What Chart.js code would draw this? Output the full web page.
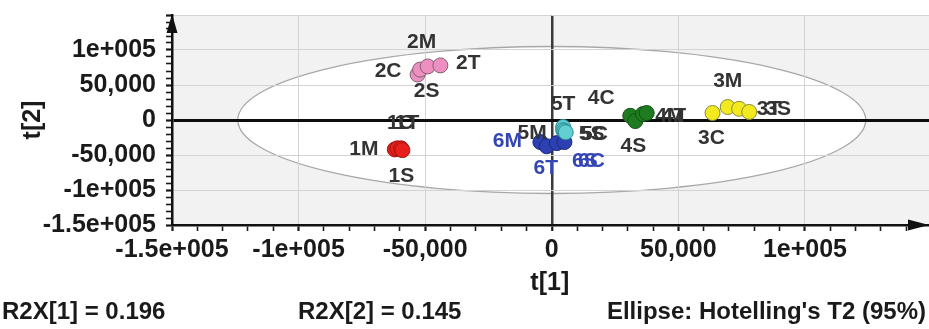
<!DOCTYPE html>
<html>
<head>
<meta charset="utf-8">
<title>PCA score plot t[1] / t[2]</title>
<script src="https://cdn.jsdelivr.net/npm/chart.js@4.4.1/dist/chart.umd.min.js"></script>
<style>
  html, body { margin: 0; padding: 0; background: #fff; }
  #chart { display: block; }
</style>
</head>
<body>
<canvas id="chart" width="929" height="329"></canvas>
<script>
// scores (t[1], t[2]) for each sample
const sampleNames = ['1M', '1C', '1T', '1S', '2S', '2C', '2M', '2T', '3C', '3M', '3T', '3S',
  '4C', '4S', '4M', '4T', '5T', '5M', '5C', '5S', '6M', '6T', '6S', '6C'];
const sampleGroup = [1, 1, 1, 1, 2, 2, 2, 2, 3, 3, 3, 3, 4, 4, 4, 4, 5, 5, 5, 5, 6, 6, 6, 6];
const t1Scores = [-62000, -61000, -59500, -59000, -53000, -52000, -49000, -44000, 63500, 69500, 74000, 78000,
  31000, 33000, 36000, 37500, 4500, 4500, 5000, 5500, -4500, -2000, 2000, 5000];
const t2Scores = [-42000, -40500, -40500, -43000, 65000, 72000, 76500, 78000, 10000, 18500, 16000, 11500,
  6000, -1500, 8500, 10000, -10000, -14500, -16000, -17500, -31500, -37500, -33000, -31500];

const groups = [1, 2, 3, 4, 5, 6];
const xTickValues = [-150000, -100000, -50000, 0, 50000, 100000];
const xTickLabels = ['-1.5e+005', '-1e+005', '-50,000', '0', '50,000', '1e+005'];
const yTickValues = [-150000, -100000, -50000, 0, 50000, 100000];
const yTickLabels = ['-1.5e+005', '-1e+005', '-50,000', '0', '50,000', '1e+005'];

const r2x1 = 0.196;
const r2x2 = 0.145;
// Hotelling's T2 (95%) ellipse half-axes, in score units
const ellipseT1 = 124000;
const ellipseT2 = 105000;

// styling
const FONT = '"Liberation Sans", Arial, Helvetica, sans-serif';
const groupFill = { 1: '#e8201c', 2: '#ee8fc1', 3: '#f2ea1f', 4: '#1f7b1f', 5: '#62cfd0', 6: '#2c40b2' };
const groupEdge = { 1: '#a3140f', 2: '#80606f', 3: '#8b8a3a', 4: '#15521a', 5: '#2a8c96', 6: '#1d2b80' };
const labelColor = { 6: '#3446b4' };
// where each sample name sits relative to its point (px)
const labelOffset = {
  '1M': [-31, 0], '1S': [-1, 26], '1C': [3, -25], '1T': [6, -25],
  '2M': [-6, -24], '2C': [-32, 2], '2T': [28, -2], '2S': [9, 17],
  '3M': [0, -26], '3C': [-1, 25], '3T': [30, 0], '3S': [29, -3],
  '4C': [-29, -18], '4S': [-2, 25], '4M': [27, 2], '4T': [27, 3],
  '5T': [0, -23], '5M': [-31, 3], '5S': [26, 2], '5C': [30, 3],
  '6M': [-33, -1], '6T': [-1, 22], '6S': [28, 18], '6C': [27, 19]
};

const datasets = groups.map((g) => {
  const idx = sampleGroup.map((v, i) => (v === g ? i : -1)).filter((i) => i >= 0);
  return {
    label: 'Group ' + g,
    names: idx.map((i) => sampleNames[i]),
    data: idx.map((i) => ({ x: t1Scores[i], y: t2Scores[i] })),
    backgroundColor: groupFill[g],
    borderColor: groupEdge[g],
    borderWidth: 1,
    pointRadius: 7.5,
    pointHoverRadius: 7.5,
    group: g
  };
});

function stepTicks(from, to) {
  const out = [];
  for (let v = from; v <= to; v += 10000) out.push({ value: v });
  return out;
}

function gridColor(c, zeroColor) {
  if (!c.tick) return 'rgba(0,0,0,0)';
  const v = c.tick.value;
  if (v === 0) return zeroColor;
  return v % 50000 === 0 ? '#d3d3d3' : 'rgba(0,0,0,0)';
}

const decorations = {
  id: 'decorations',
  beforeDraw(chart) {
    const { ctx, chartArea: a, scales: { x, y } } = chart;
    ctx.save();
    ctx.fillStyle = '#f2f2f2';
    ctx.fillRect(a.left, a.top, a.right - a.left, a.bottom - a.top);
    const cx = x.getPixelForValue(0);
    const cy = y.getPixelForValue(0);
    const rx = x.getPixelForValue(ellipseT1) - cx;
    const ry = cy - y.getPixelForValue(ellipseT2);
    ctx.beginPath();
    ctx.ellipse(cx, cy, rx, ry, 0, 0, Math.PI * 2);
    ctx.fillStyle = '#ffffff';
    ctx.fill();
    ctx.strokeStyle = '#a8a8a8';
    ctx.lineWidth = 1.3;
    ctx.stroke();
    ctx.restore();
  },
  afterDatasetsDraw(chart) {
    const { ctx } = chart;
    ctx.save();
    ctx.font = 'bold 21px ' + FONT;
    ctx.textAlign = 'center';
    ctx.textBaseline = 'middle';
    chart.data.datasets.forEach((ds, i) => {
      chart.getDatasetMeta(i).data.forEach((pt, j) => {
        const name = ds.names[j];
        const off = labelOffset[name] || [0, -22];
        ctx.fillStyle = labelColor[ds.group] || '#333333';
        ctx.fillText(name, pt.x + off[0], pt.y + off[1]);
      });
    });
    ctx.restore();
  },
  afterDraw(chart) {
    const { ctx, chartArea: a } = chart;
    ctx.save();
    ctx.fillStyle = '#111';
    // axis arrows
    ctx.beginPath();
    ctx.moveTo(a.left, a.top - 1);
    ctx.lineTo(a.left - 5.5, a.top + 18);
    ctx.lineTo(a.left + 5.5, a.top + 18);
    ctx.closePath();
    ctx.fill();
    ctx.beginPath();
    ctx.moveTo(a.right, a.bottom);
    ctx.lineTo(a.right - 21, a.bottom - 5.5);
    ctx.lineTo(a.right - 21, a.bottom + 5.5);
    ctx.closePath();
    ctx.fill();

    // axis titles
    ctx.fillStyle = '#1a1a1a';
    ctx.font = 'bold 25px ' + FONT;
    ctx.textAlign = 'center';
    ctx.textBaseline = 'middle';
    ctx.fillText('t[1]', x0(chart) - 2, 283);
    ctx.save();
    ctx.translate(33, (a.top + a.bottom) / 2);
    ctx.rotate(-Math.PI / 2);
    ctx.fillText('t[2]', 0, 0);
    ctx.restore();

    // footer notes
    ctx.font = 'bold 24px ' + FONT;
    ctx.textAlign = 'left';
    ctx.fillText('R2X[1] = ' + r2x1.toFixed(3), 2, 312);
    ctx.fillText('R2X[2] = ' + r2x2.toFixed(3), 298, 312);
    ctx.textAlign = 'right';
    ctx.fillText("Ellipse: Hotelling's T2 (95%)", 926, 312);
    ctx.restore();
  }
};

function x0(chart) {
  return chart.scales.x.getPixelForValue(0);
}

const tickFont = { family: FONT, size: 25, weight: 'bold' };

new Chart(document.getElementById('chart'), {
  type: 'scatter',
  data: { datasets },
  options: {
    responsive: false,
    animation: false,
    devicePixelRatio: 1,
    layout: { autoPadding: false, padding: { top: 15, right: 0, bottom: 0, left: 0 } },
    plugins: { legend: { display: false }, tooltip: { enabled: false } },
    scales: {
      x: {
        type: 'linear',
        min: -150000,
        max: 149000,
        afterBuildTicks: (s) => { s.ticks = stepTicks(-150000, 140000); },
        afterFit: (s) => { s.height = 104; s.paddingLeft = 0; s.paddingRight = 0; },
        grid: {
          color: (c) => gridColor(c, '#3a3a3a'),
          lineWidth: (c) => (c.tick && c.tick.value === 0 ? 2.5 : 1),
          tickColor: '#1a1a1a',
          tickLength: 6,
          tickWidth: (c) => (c.tick && c.tick.value % 50000 === 0 ? 2.2 : 1.6)
        },
        border: { color: '#111', width: 2.5 },
        ticks: {
          autoSkip: false,
          maxRotation: 0,
          padding: 4,
          color: '#1a1a1a',
          font: tickFont,
          callback: (v) => {
            const k = xTickValues.indexOf(v);
            return k >= 0 ? xTickLabels[k] : '';
          }
        }
      },
      y: {
        type: 'linear',
        min: -150000,
        max: 150000,
        afterBuildTicks: (s) => { s.ticks = stepTicks(-150000, 150000); },
        afterFit: (s) => { s.width = 172; s.paddingTop = 0; s.paddingBottom = 0; },
        grid: {
          color: (c) => gridColor(c, '#0d0d0d'),
          lineWidth: (c) => (c.tick && c.tick.value === 0 ? 3 : 1),
          tickColor: '#1a1a1a',
          tickLength: 6,
          tickWidth: (c) => (c.tick && c.tick.value % 50000 === 0 ? 2.2 : 1.6)
        },
        border: { color: '#111', width: 2.5 },
        ticks: {
          autoSkip: false,
          padding: 10,
          color: '#1a1a1a',
          font: tickFont,
          callback: (v) => {
            const k = yTickValues.indexOf(v);
            return k >= 0 ? yTickLabels[k] : '';
          }
        }
      }
    }
  },
  plugins: [decorations]
});
</script>
</body>
</html>
